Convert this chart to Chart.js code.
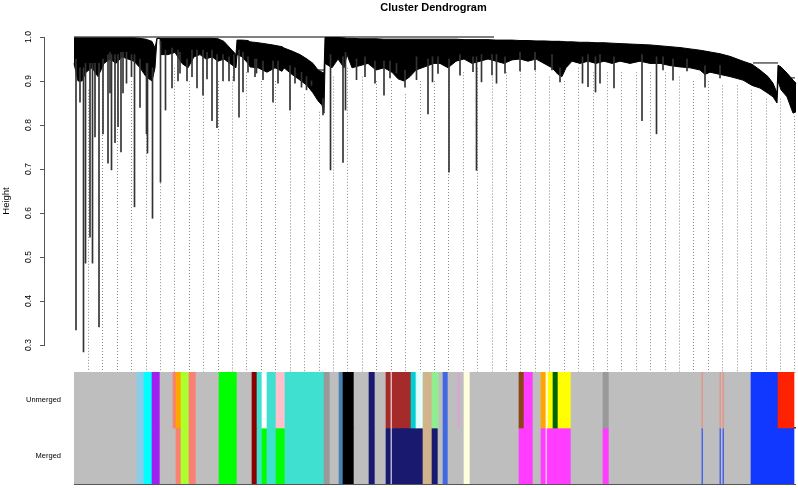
<!DOCTYPE html>
<html lang="en">
<head>
    <meta charset="UTF-8">
    <title>Cluster Dendrogram</title>
    <script src="https://cdn.jsdelivr.net/npm/chart.js"></script>
    <style>
        body { margin: 0; overflow: hidden; background: #fff; }
        .box { position: absolute; left: 0; }
        canvas { display: block; }
    </style>
</head>
<body>
<div class="box" style="top:0"><canvas id="dendro" width="822" height="372"></canvas></div>
<div class="box" style="top:372px"><canvas id="colors" width="796" height="116"></canvas></div>

<script>
    // leaf order positions (0 = first leaf) and dendrogram heights
    const heightTicks = [0.3, 0.4, 0.5, 0.6, 0.7, 0.8, 0.9, 1.0];

    // dense body of the tree: upper and lower edge at sampled leaf positions
    const massLeaves = [
        0, 4, 8, 12, 18, 24, 30, 36, 42, 48,
        54, 60, 66, 72, 78, 81, 83, 86, 87, 94,
        101, 108, 114, 120, 126, 132, 138, 144, 150, 156,
        162, 163, 168, 174, 176, 184, 193, 201, 208, 210,
        218, 226, 233, 239, 244, 248, 250, 251, 258, 264,
        270, 273, 278, 286, 294, 302, 310, 318, 324, 330,
        336, 342, 348, 354, 360, 366, 374, 382, 390, 398,
        406, 414, 422, 430, 438, 446, 454, 462, 470, 478,
        484, 488, 492, 498, 506, 514, 522, 530, 538, 546,
        556, 566, 576, 586, 596, 606, 616, 626, 631, 636,
        646, 656, 669, 678, 686, 694, 699, 703, 704, 707,
        713, 719, 722
    ];
    const massTop = [
        0.998, 0.998, 0.998, 0.998, 0.998, 0.998, 0.998, 0.998, 0.998, 0.998,
        0.998, 0.998, 0.997, 0.995, 0.99, 0.975, 0.997, 0.997, 0.997, 0.997,
        0.997, 0.997, 0.997, 0.997, 0.997, 0.997, 0.997, 0.996, 0.99, 0.975,
        0.96, 0.993, 0.993, 0.992, 0.989, 0.987, 0.984, 0.981, 0.978, 0.975,
        0.968, 0.96, 0.95, 0.94, 0.925, 0.92, 0.918, 0.999, 0.999, 0.999,
        0.998, 0.997, 0.997, 0.996, 0.996, 0.996, 0.995, 0.995, 0.995, 0.995,
        0.995, 0.995, 0.995, 0.995, 0.995, 0.995, 0.995, 0.995, 0.994, 0.994,
        0.994, 0.994, 0.993, 0.993, 0.993, 0.992, 0.992, 0.991, 0.991, 0.99,
        0.99, 0.99, 0.989, 0.989, 0.988, 0.988, 0.987, 0.987, 0.986, 0.985,
        0.984, 0.983, 0.982, 0.98, 0.978, 0.976, 0.973, 0.97, 0.968, 0.966,
        0.962, 0.956, 0.945, 0.938, 0.925, 0.91, 0.895, 0.873, 0.936, 0.932,
        0.918, 0.902, 0.895
    ];
    const massBottom = [
        0.94, 0.90, 0.90, 0.92, 0.93, 0.91, 0.94, 0.95, 0.94, 0.955,
        0.95, 0.945, 0.93, 0.91, 0.90, 0.93, 0.997, 0.997, 0.96, 0.96,
        0.965, 0.94, 0.93, 0.955, 0.96, 0.95, 0.955, 0.945, 0.95, 0.94,
        0.93, 0.96, 0.955, 0.94, 0.932, 0.93, 0.92, 0.93, 0.922, 0.93,
        0.915, 0.902, 0.89, 0.873, 0.855, 0.845, 0.827, 0.94, 0.93, 0.95,
        0.93, 0.96, 0.93, 0.935, 0.94, 0.925, 0.93, 0.92, 0.905, 0.90,
        0.91, 0.925, 0.93, 0.935, 0.94, 0.94, 0.93, 0.945, 0.95, 0.94,
        0.945, 0.95, 0.945, 0.94, 0.948, 0.95, 0.945, 0.95, 0.94, 0.93,
        0.915, 0.91, 0.93, 0.945, 0.94, 0.945, 0.94, 0.945, 0.94, 0.945,
        0.94, 0.945, 0.94, 0.94, 0.935, 0.932, 0.93, 0.925, 0.915, 0.92,
        0.915, 0.91, 0.902, 0.89, 0.884, 0.872, 0.864, 0.85, 0.90, 0.88,
        0.864, 0.827, 0.83
    ];

    // single leaves hanging below the body: leaf, lowest height, height where it joins the body
    const spikeLeaves = [
        2, 6, 9.5, 11.5, 16, 18.5, 21, 25, 29, 34,
        37.5, 41, 44, 47, 49, 60.5, 66, 72.5, 73.5, 78.5,
        86.5, 91.5, 98, 106, 113, 123, 129, 138, 143, 149,
        155, 165, 169, 199, 216, 227.5, 237.5, 249, 256.5, 269,
        271.5, 301, 310, 331, 354, 358.5, 375, 402.5, 407.5, 422.5,
        431, 486, 508.5, 521.5, 540, 568, 582.5, 599, 631, 646,
        36, 52.5, 57.5, 104, 118, 133, 160, 174, 181, 182.5,
        189, 204, 221, 232.5, 282.5, 291, 316, 322.5, 342.5, 364,
        386, 399, 418, 446, 461, 478, 514, 526, 589, 613
    ];
    const spikeHeights = [
        0.334, 0.852, 0.284, 0.486, 0.545, 0.486, 0.773, 0.341, 0.78, 0.713,
        0.698, 0.76, 0.796, 0.739, 0.873, 0.614, 0.84, 0.78, 0.736, 0.588,
        0.67, 0.834, 0.884, 0.918, 0.90, 0.884, 0.868, 0.81, 0.794, 0.90,
        0.90, 0.818, 0.875, 0.852, 0.834, 0.886, 0.89, 0.823, 0.698, 0.715,
        0.834, 0.895, 0.868, 0.886, 0.825, 0.898, 0.693, 0.697, 0.898, 0.895,
        0.918, 0.898, 0.895, 0.875, 0.884, 0.81, 0.78, 0.902, 0.886, 0.907,
        0.873, 0.895, 0.91, 0.90, 0.91, 0.905, 0.90, 0.92, 0.91, 0.918,
        0.903, 0.895, 0.895, 0.88, 0.903, 0.91, 0.907, 0.918, 0.903, 0.917,
        0.913, 0.921, 0.914, 0.923, 0.925, 0.925, 0.887, 0.895, 0.925, 0.923
    ];
    const spikeJoins = [
        0.95, 0.93, 0.93, 0.94, 0.94, 0.94, 0.94, 0.94, 0.95, 0.96,
        0.96, 0.96, 0.96, 0.965, 0.965, 0.96, 0.95, 0.94, 0.94, 0.93,
        0.99, 0.97, 0.975, 0.965, 0.95, 0.97, 0.97, 0.97, 0.96, 0.96,
        0.955, 0.97, 0.965, 0.945, 0.935, 0.92, 0.90, 0.86, 0.96, 0.955,
        0.965, 0.945, 0.945, 0.925, 0.95, 0.955, 0.95, 0.955, 0.96, 0.96,
        0.955, 0.93, 0.955, 0.955, 0.955, 0.96, 0.955, 0.95, 0.935, 0.935,
        0.965, 0.965, 0.96, 0.97, 0.97, 0.965, 0.96, 0.955, 0.95, 0.95,
        0.945, 0.945, 0.93, 0.91, 0.95, 0.955, 0.945, 0.94, 0.955, 0.955,
        0.96, 0.955, 0.96, 0.965, 0.965, 0.96, 0.96, 0.96, 0.955, 0.95
    ];

    // horizontal merge lines near the top
    const mergeFrom = [0, 244, 303, 321, 453, 471, 679, 713];
    const mergeTo = [420, 250, 346, 351, 486, 496, 704, 721];
    const mergeHeights = [1.0, 0.925, 0.99, 0.983, 0.99, 0.98, 0.941, 0.907];

    // dotted guide lines
    const guideBottom = 0.24;
    const guideLeaves = [
        14.5, 28.5, 43.5, 57.5, 72.5, 86.5, 100.5, 115.5, 129.5, 144.5,
        158.5, 172.5, 187.5, 201.5, 216.5, 230.5, 245.5, 259.5, 273.5, 288.5,
        302.5, 317.5, 331.5, 346.5, 360.5, 374.5, 389.5, 403.5, 418.5, 432.5,
        446.5, 461.5, 475.5, 490.5, 504.5, 519.5, 533.5, 547.5, 562.5, 576.5,
        591.5, 605.5, 619.5, 634.5, 648.5, 663.5, 677.5, 692.5, 706.5, 720.5
    ];
    const guideTops = [
        0.88, 0.90, 0.90, 0.90, 0.88, 0.92, 0.93, 0.90, 0.93, 0.90,
        0.91, 0.92, 0.90, 0.90, 0.89, 0.87, 0.83, 0.91, 0.93, 0.91,
        0.90, 0.90, 0.87, 0.90, 0.90, 0.90, 0.92, 0.93, 0.91, 0.92,
        0.93, 0.93, 0.91, 0.90, 0.93, 0.92, 0.92, 0.92, 0.92, 0.92,
        0.92, 0.91, 0.90, 0.90, 0.89, 0.89, 0.88, 0.86, 0.86, 0.82
    ];

    // module colour rows under the tree
    const rowLabels = ["Unmerged", "Merged"];
    const unmergedEdges = [
        0, 63, 70, 78, 86, 99, 102, 107, 115, 122, 145, 163, 178, 183, 188, 193, 202, 211, 250, 256,
        265, 269, 280, 295, 301, 312, 317, 318, 337, 342, 349, 358, 365, 369, 374, 384, 386, 390, 396, 445,
        450, 459, 467, 472, 474, 479, 484, 497, 529, 535, 628, 629, 646, 647, 649, 650, 677, 704, 720
    ];
    const unmergedModules = [
        "grey", "skyblue", "cyan", "purple", "grey", "salmon", "orange", "greenyellow", "salmon", "grey",
        "green", "grey", "darkred", "turquoise", "white", "turquoise", "pink", "turquoise", "grey60", "grey",
        "steelblue", "black", "grey", "midnightblue", "grey", "brown", "white", "brown", "darkturquoise", "lightcyan",
        "tan", "lightgreen", "grey", "royalblue", "grey", "plum", "grey", "lightyellow", "grey", "saddlebrown",
        "magenta", "grey", "orange", "lightyellow", "yellow", "darkgreen", "yellow", "grey", "grey60", "grey",
        "salmon", "grey", "salmon", "grey", "salmon", "grey", "blue", "red"
    ];
    const mergedEdges = [
        0, 63, 70, 78, 86, 102, 107, 115, 122, 145, 163, 178, 183, 188, 193, 202, 211, 250, 256, 265,
        269, 280, 295, 301, 312, 317, 318, 349, 358, 364, 369, 374, 390, 396, 445, 459, 467, 472, 473, 497,
        529, 535, 628, 629, 646, 647, 649, 650, 677, 720
    ];
    const mergedModules = [
        "grey", "skyblue", "cyan", "purple", "grey", "salmon", "greenyellow", "salmon", "grey", "green",
        "grey", "darkred", "turquoise", "green", "turquoise", "green", "turquoise", "grey60", "grey", "steelblue",
        "black", "grey", "midnightblue", "grey", "midnightblue", "white", "midnightblue", "tan", "midnightblue", "grey",
        "royalblue", "grey", "lightyellow", "grey", "magenta", "grey", "magenta", "white", "magenta", "grey",
        "magenta", "grey", "blue", "grey", "blue", "grey", "blue", "grey", "blue"
    ];

    const moduleColors = {
        grey: "#bebebe", grey60: "#999999", skyblue: "#87ceeb", cyan: "#00ffff", purple: "#a020f0",
        salmon: "#fa8072", orange: "#ffa500", greenyellow: "#adff2f", green: "#00ff00", darkred: "#8b0000",
        turquoise: "#40e0d0", white: "#ffffff", pink: "#ffc0cb", steelblue: "#4682b4", black: "#000000",
        midnightblue: "#191970", brown: "#a52a2a", darkturquoise: "#00ced1", lightcyan: "#e0ffff", tan: "#d2b48c",
        lightgreen: "#90ee90", royalblue: "#4169e1", plum: "#dda0dd", lightyellow: "#ffffe0", saddlebrown: "#8b4513",
        magenta: "#ff3cff", yellow: "#ffff00", darkgreen: "#006400", blue: "#1038ff", red: "#ff2200"
    };

    Chart.defaults.font.family = "'Liberation Sans', Arial, sans-serif";
    Chart.defaults.color = "#000";

    const guidePoints = [];
    guideLeaves.forEach((x, i) => {
        guidePoints.push({x, y: guideTops[i]}, {x, y: guideBottom}, {x, y: null});
    });
    const mergePoints = [];
    mergeFrom.forEach((x, i) => {
        mergePoints.push({x, y: mergeHeights[i]}, {x: mergeTo[i], y: mergeHeights[i]}, {x, y: null});
    });

    // R style axis line, only between first and last tick
    const axisLine = {
        id: "axisLine",
        afterDraw(chart) {
            const y = chart.scales.y;
            const x = chart.chartArea.left - 0.5;
            const ctx = chart.ctx;
            ctx.save();
            ctx.strokeStyle = "#555";
            ctx.lineWidth = 1;
            ctx.beginPath();
            ctx.moveTo(x, y.getPixelForValue(heightTicks[0]));
            ctx.lineTo(x, y.getPixelForValue(heightTicks[heightTicks.length - 1]));
            ctx.stroke();
            ctx.restore();
        }
    };

    // keep the plot area full height: no extra room for the end labels
    function fixAxis(width) {
        return s => {
            s.width = width;
            s.paddingTop = 0;
            s.paddingBottom = 0;
        };
    }

    new Chart(document.getElementById("dendro"), {
        type: "line",
        data: {
            datasets: [
                {
                    label: "guides",
                    data: guidePoints,
                    borderColor: "#8a8a8a",
                    borderWidth: 1,
                    borderDash: [1, 2],
                    pointRadius: 0,
                    fill: false,
                    order: 5
                },
                {
                    label: "top",
                    data: massLeaves.map((x, i) => ({x, y: massTop[i]})),
                    borderColor: "#000",
                    borderWidth: 1,
                    pointRadius: 0,
                    fill: false,
                    order: 3
                },
                {
                    label: "bottom",
                    data: massLeaves.map((x, i) => ({x, y: massBottom[i]})),
                    borderColor: "#000",
                    borderWidth: 1,
                    pointRadius: 0,
                    fill: "-1",
                    backgroundColor: "#000",
                    order: 3
                },
                {
                    type: "bar",
                    label: "leaves",
                    data: spikeLeaves.map((x, i) => ({x, y: [spikeHeights[i], spikeJoins[i]]})),
                    backgroundColor: "#333",
                    barThickness: 1,
                    order: 2
                },
                {
                    label: "merges",
                    data: mergePoints,
                    borderColor: "#000",
                    borderWidth: 1,
                    pointRadius: 0,
                    fill: false,
                    order: 1
                }
            ]
        },
        options: {
            responsive: false,
            animation: false,
            events: [],
            layout: { autoPadding: false },
            plugins: {
                legend: { display: false },
                tooltip: { enabled: false },
                title: {
                    display: true,
                    text: "Cluster Dendrogram",
                    fullSize: false,
                    font: { size: 11, weight: "bold" },
                    padding: { top: 1.4, bottom: 15.4 }
                }
            },
            scales: {
                x: { type: "linear", min: -29, max: 748, offset: false, display: false },
                y: {
                    type: "linear",
                    min: 0.23864,
                    max: 1.01591,
                    beginAtZero: false,
                    afterBuildTicks: s => { s.ticks = heightTicks.map(v => ({value: v})); },
                    afterFit: fixAxis(45),
                    border: { display: false },
                    grid: { drawOnChartArea: false, tickLength: 5, color: "#555" },
                    ticks: {
                        minRotation: 90,
                        maxRotation: 90,
                        crossAlign: "center",
                        padding: 5,
                        font: { size: 8.5 },
                        callback: v => v.toFixed(1)
                    },
                    title: { display: true, text: "Height", font: { size: 9.5 }, padding: { top: 1, bottom: 0 } }
                }
            }
        },
        plugins: [axisLine]
    });

    function rowSegments(edges, modules, row) {
        return modules.map((m, i) => ({y: row, x: [edges[i], edges[i + 1]]}));
    }
    const gridColors = ["#c4c4c4", "#333", "#555"];

    new Chart(document.getElementById("colors"), {
        type: "bar",
        data: {
            labels: rowLabels,
            datasets: [
                {
                    label: "Unmerged",
                    data: rowSegments(unmergedEdges, unmergedModules, rowLabels[0]),
                    backgroundColor: unmergedModules.map(m => moduleColors[m])
                },
                {
                    label: "Merged",
                    data: rowSegments(mergedEdges, mergedModules, rowLabels[1]),
                    backgroundColor: mergedModules.map(m => moduleColors[m])
                }
            ]
        },
        options: {
            indexAxis: "y",
            responsive: false,
            animation: false,
            events: [],
            layout: { autoPadding: false, padding: { bottom: 4 } },
            datasets: { bar: { grouped: false, categoryPercentage: 1, barPercentage: 1, borderWidth: 0 } },
            plugins: { legend: { display: false }, tooltip: { enabled: false } },
            scales: {
                x: { type: "linear", min: 0, max: 722, display: false },
                y: {
                    type: "category",
                    offset: true,
                    z: 1,
                    afterFit: fixAxis(74),
                    border: { display: false },
                    grid: {
                        offset: true,
                        drawTicks: false,
                        color: ctx => gridColors[ctx.index] || "#555",
                        lineWidth: ctx => (ctx.index === 1 ? 1.5 : 1)
                    },
                    ticks: { padding: 13, font: { size: 7.5 } }
                }
            }
        }
    });
</script>
</body>
</html>
